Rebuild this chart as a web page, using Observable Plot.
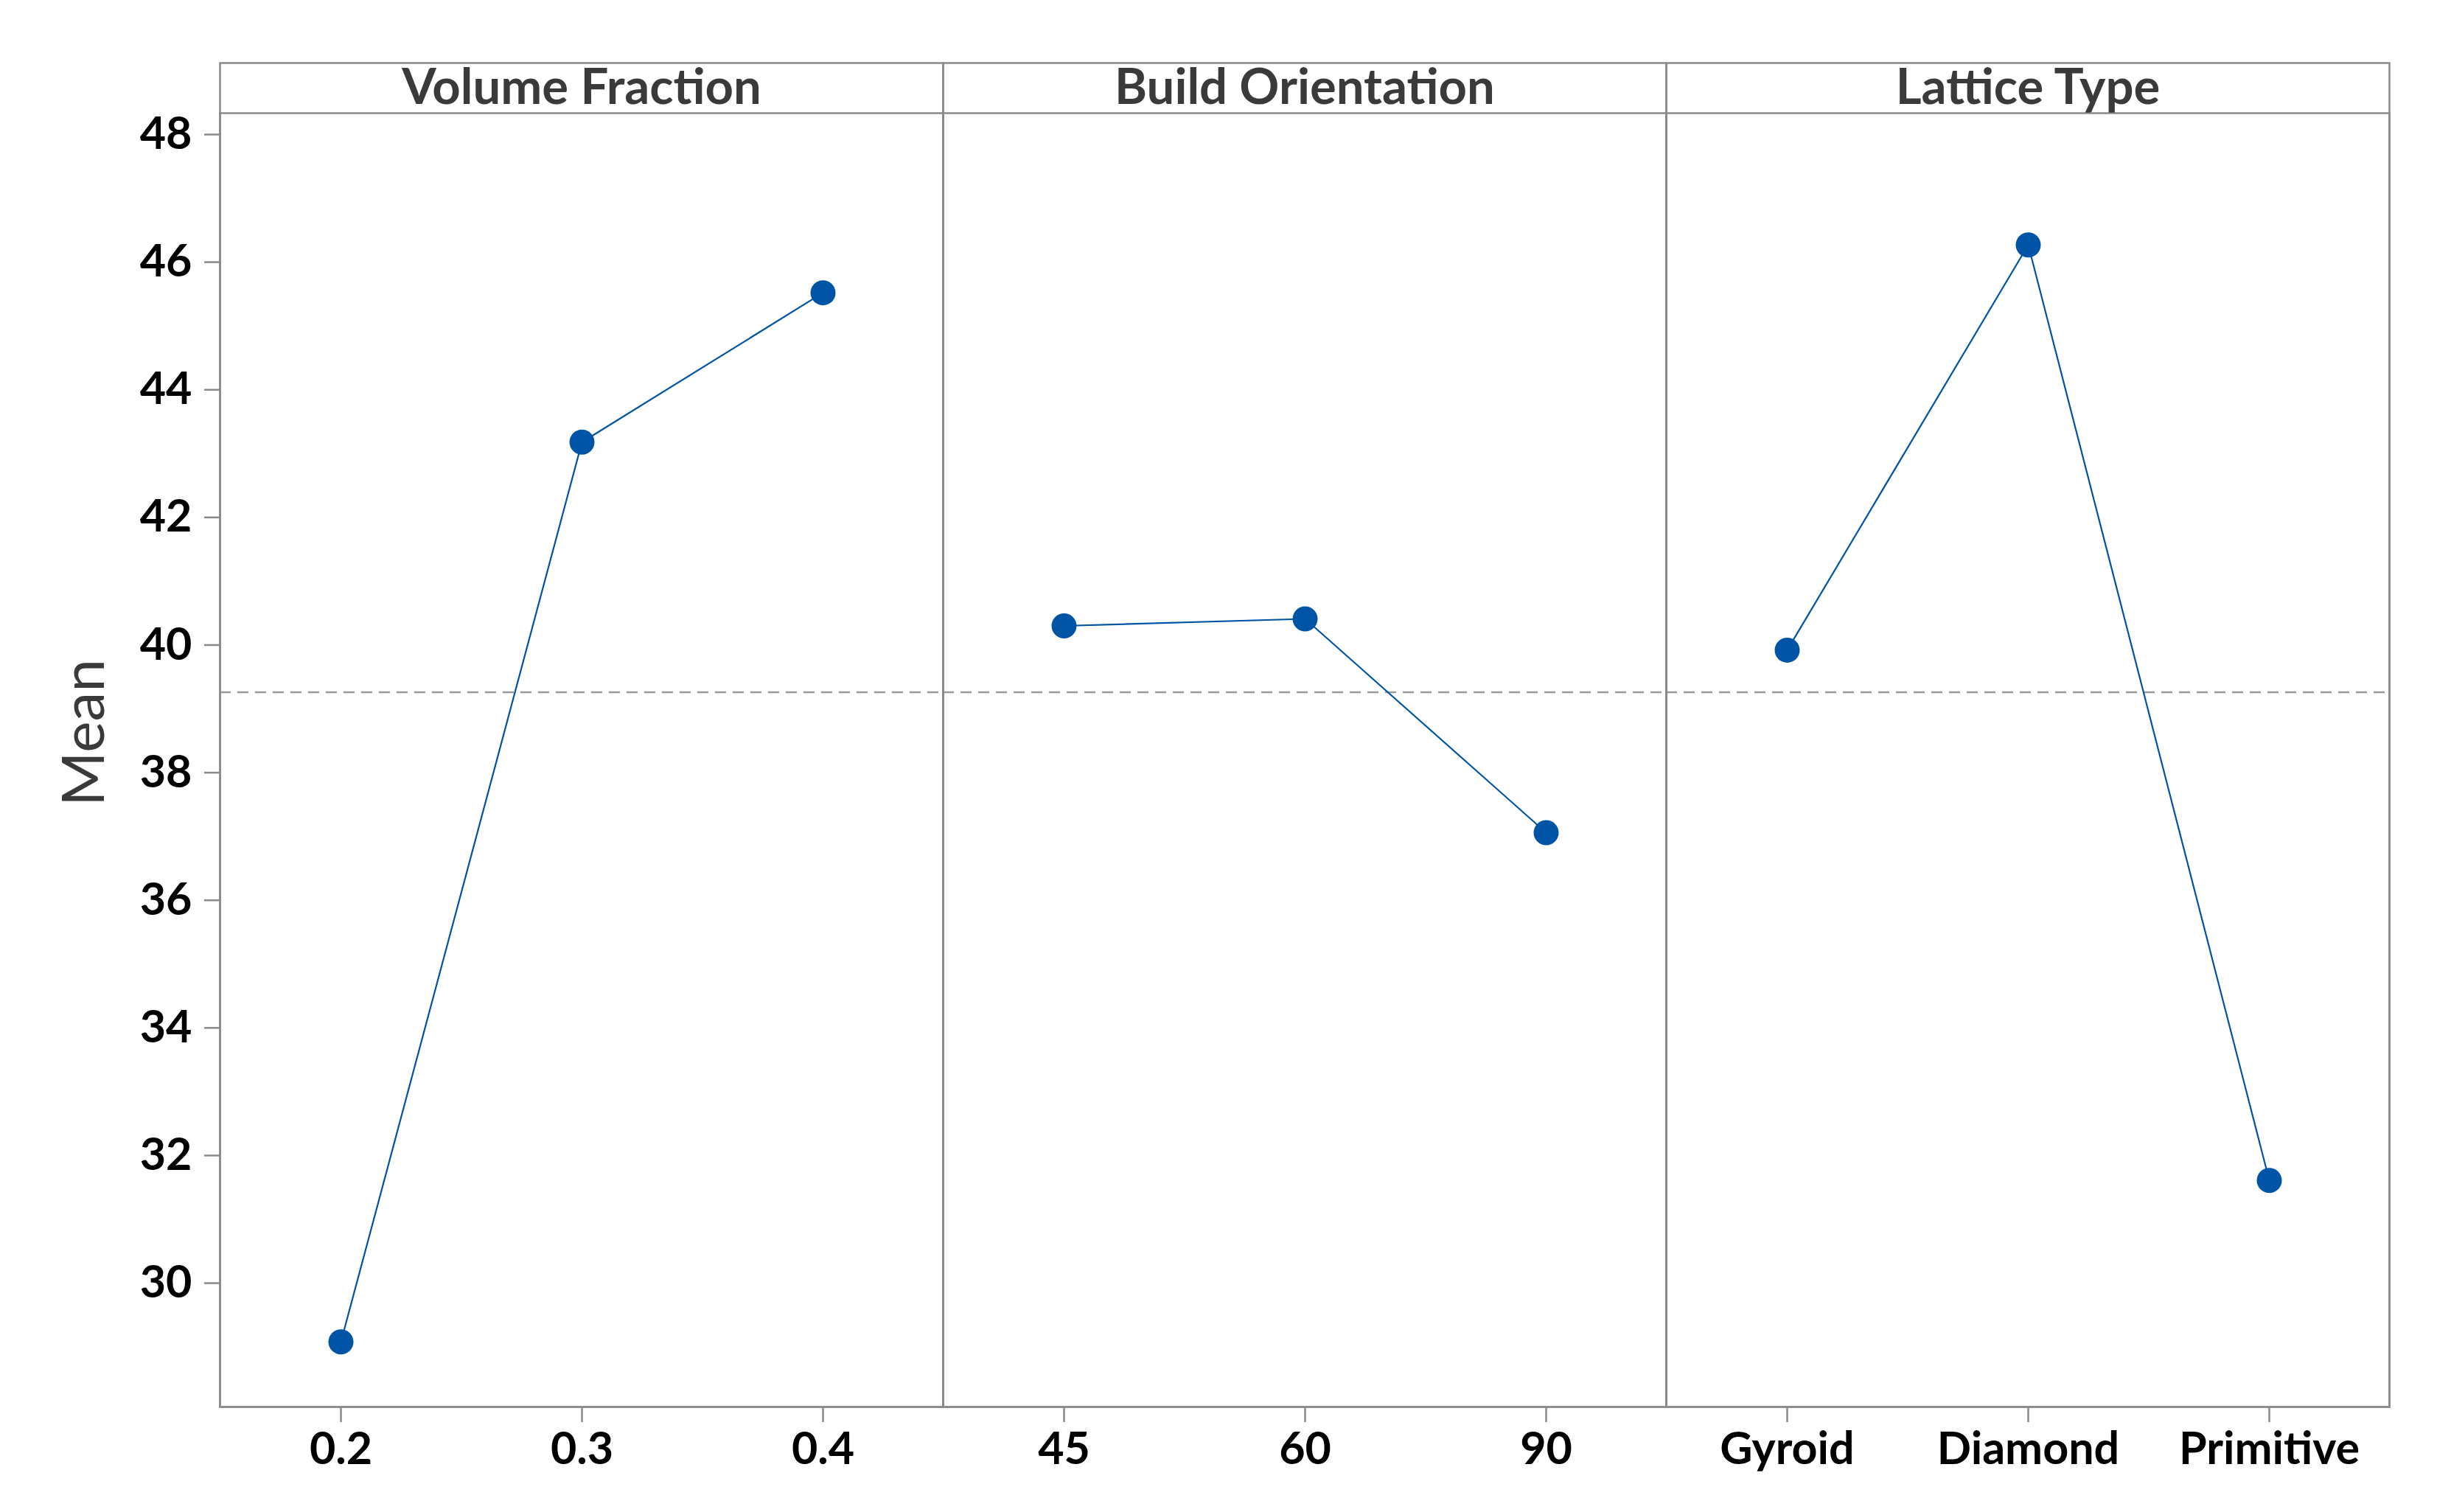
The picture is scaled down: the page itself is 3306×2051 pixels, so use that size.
<!DOCTYPE html>
<html>
<head>
<meta charset="utf-8">
<script src="https://cdn.jsdelivr.net/npm/d3@7"></script>
<script src="https://cdn.jsdelivr.net/npm/@observablehq/plot@0.6"></script>
<style>
  html, body { margin: 0; padding: 0; background: #fff; overflow: hidden; }
</style>
</head>
<body>
<div id="chart"></div>
<script>
// ---- data ----
const factors = ["Volume Fraction", "Build Orientation", "Lattice Type"];
const volumeFractionLevels = ["0.2", "0.3", "0.4"];
const volumeFractionMeans = [29.08, 43.18, 45.52];
const buildOrientationLevels = ["45", "60", "90"];
const buildOrientationMeans = [40.30, 40.41, 37.06];
const latticeTypeLevels = ["Gyroid", "Diamond", "Primitive"];
const latticeTypeMeans = [39.92, 46.27, 31.61];
const grandMean = 39.26;
const yTicks = [30, 32, 34, 36, 38, 40, 42, 44, 46, 48];
const yLabel = "Mean";

const levelLists = [volumeFractionLevels, buildOrientationLevels, latticeTypeLevels];
const meanLists = [volumeFractionMeans, buildOrientationMeans, latticeTypeMeans];
const rows = [];
factors.forEach((f, k) => levelLists[k].forEach((lv, i) =>
  rows.push({factor: f, level: lv, idx: i, mean: meanLists[k][i]})));

// ---- layout ----
const W = 3306, H = 2051;
const mL = 297, mR = 64, mT = 153, mB = 143;
const plotH = H - mT - mB;
const gray = "#8a8a8a";
const blue = "#0054a6";

const chart = Plot.plot({
  width: W,
  height: H,
  marginLeft: mL,
  marginRight: mR,
  marginTop: mT,
  marginBottom: mB,
  style: {fontFamily: "Lato, 'Open Sans', sans-serif", background: "#fff"},
  fx: {domain: factors, padding: 0, axis: null},
  x: {type: "point", domain: [0, 1, 2], padding: 0.5, axis: null},
  y: {domain: [28.06, 48.335], axis: null},
  marks: [
    Plot.ruleY([grandMean], {stroke: "#9a9a9a", strokeWidth: 2.5, strokeDasharray: "15,9"}),
    Plot.frame({stroke: gray, strokeWidth: 2.5}),
    Plot.frame({stroke: gray, strokeWidth: 2.5, insetTop: -68}),
    Plot.line(rows, {fx: "factor", x: "idx", y: "mean", stroke: blue, strokeWidth: 2.2}),
    Plot.dot(rows, {fx: "factor", x: "idx", y: "mean", r: 17, fill: blue, stroke: "none"}),
    Plot.text(factors, {fx: d => d, text: d => d, frameAnchor: "top", dy: -34,
      fontSize: 67, fontWeight: 700, fill: "#3a3a3a", lineAnchor: "middle"}),
    Plot.text(rows, {fx: "factor", x: "idx", text: "level", frameAnchor: "bottom", dy: 58,
      fontSize: 61, fontWeight: 700, fill: "#000", lineAnchor: "middle"}),
    Plot.ruleX(rows, {fx: "factor", x: "idx", insetTop: plotH, insetBottom: -21, stroke: gray, strokeWidth: 2.5}),
    Plot.axisY({ticks: yTicks, tickSize: 21, tickPadding: 17, fontSize: 61, fontWeight: 700,
      fill: "#000", stroke: gray, strokeWidth: 2.5, label: null}),
    Plot.text([yLabel], {facet: "super", frameAnchor: "left", dx: -183, dy: -37, rotate: -90,
      text: d => d, fontSize: 80, fill: "#3a3a3a", textAnchor: "middle", lineAnchor: "middle"})
  ]
});
document.getElementById("chart").appendChild(chart);
</script>
</body>
</html>
